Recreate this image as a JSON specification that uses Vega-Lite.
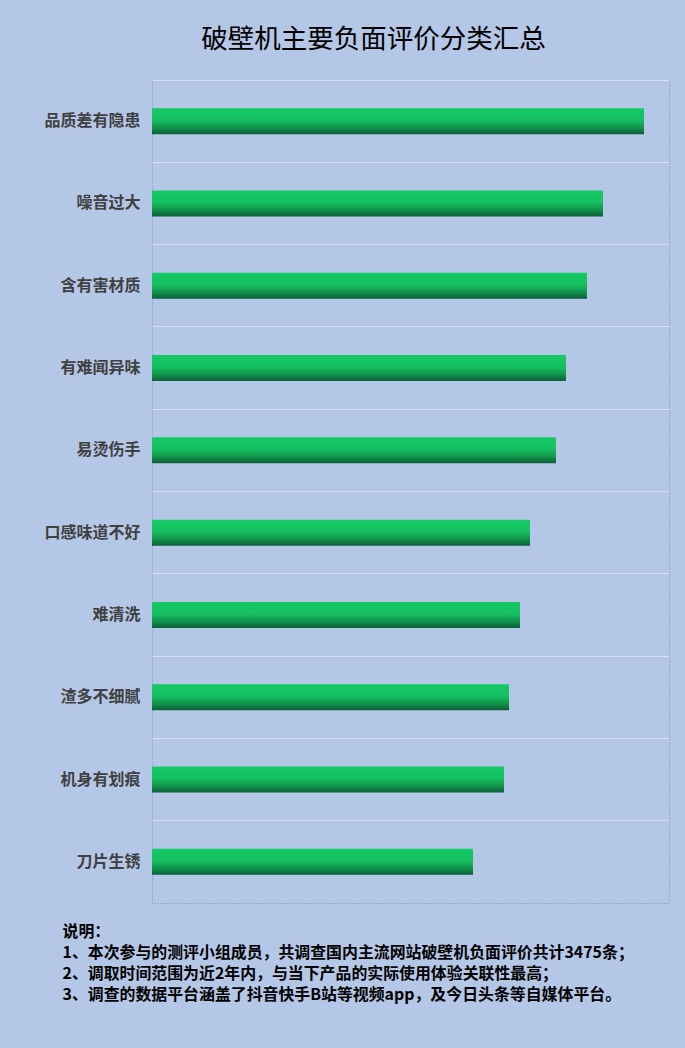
{
  "$schema": "https://vega.github.io/schema/vega-lite/v6.json",
  "width": 517,
  "height": 823,
  "autosize": {"type": "none"},
  "padding": {"left": 152, "top": 80, "right": 16, "bottom": 145},
  "background": "#B4C7E7",
  "title": {
    "text": "破壁机主要负面评价分类汇总",
    "font": "Noto Sans CJK SC",
    "fontSize": 26.5,
    "fontWeight": "normal",
    "color": "#000000",
    "anchor": "middle",
    "dx": -37,
    "offset": 27
  },
  "config": {
    "view": {"stroke": "#7F8FA9", "strokeDash": [1, 2], "strokeWidth": 1},
    "font": "Noto Sans CJK SC"
  },
  "data": {
    "values": [
      {"category": "品质差有隐患", "value": 492},
      {"category": "噪音过大", "value": 451},
      {"category": "含有害材质", "value": 435},
      {"category": "有难闻异味", "value": 414},
      {"category": "易烫伤手", "value": 404},
      {"category": "口感味道不好", "value": 378},
      {"category": "难清洗", "value": 368},
      {"category": "渣多不细腻", "value": 357},
      {"category": "机身有划痕", "value": 352},
      {"category": "刀片生锈", "value": 321}
    ]
  },
  "mark": {
    "type": "bar",
    "size": 26,
    "color": {
      "gradient": "linear",
      "x1": 0, "y1": 0, "x2": 0, "y2": 1,
      "stops": [
        {"offset": 0, "color": "#14CA66"},
        {"offset": 0.45, "color": "#16C061"},
        {"offset": 0.75, "color": "#11944B"},
        {"offset": 1, "color": "#0C5E37"}
      ]
    }
  },
  "encoding": {
    "y": {
      "field": "category",
      "type": "nominal",
      "sort": null,
      "scale": {"paddingInner": 0, "paddingOuter": 0},
      "axis": {
        "title": null,
        "ticks": false,
        "domain": false,
        "labelFont": "Noto Sans CJK SC",
        "labelFontSize": 16,
        "labelFontWeight": "bold",
        "labelColor": "#404040",
        "labelPadding": 12,
        "grid": true,
        "bandPosition": 0,
        "gridColor": "#D6E0F0",
        "gridWidth": 1
      }
    },
    "x": {
      "field": "value",
      "type": "quantitative",
      "scale": {"domain": [0, 517], "nice": false},
      "axis": {
        "labels": false,
        "ticks": false,
        "domain": false,
        "grid": false,
        "title": [
          "说明：",
          "1、本次参与的测评小组成员，共调查国内主流网站破壁机负面评价共计3475条；",
          "2、调取时间范围为近2年内，与当下产品的实际使用体验关联性最高；",
          "3、调查的数据平台涵盖了抖音快手B站等视频app，及今日头条等自媒体平台。"
        ],
        "titleFont": "Noto Sans CJK SC",
        "titleFontSize": 15.9,
        "titleFontWeight": "bold",
        "titleColor": "#000000",
        "titleAlign": "left",
        "titleAnchor": "start",
        "titleBaseline": "top",
        "titleX": -90,
        "titleY": 20,
        "titleLineHeight": 21.3
      }
    }
  }
}
